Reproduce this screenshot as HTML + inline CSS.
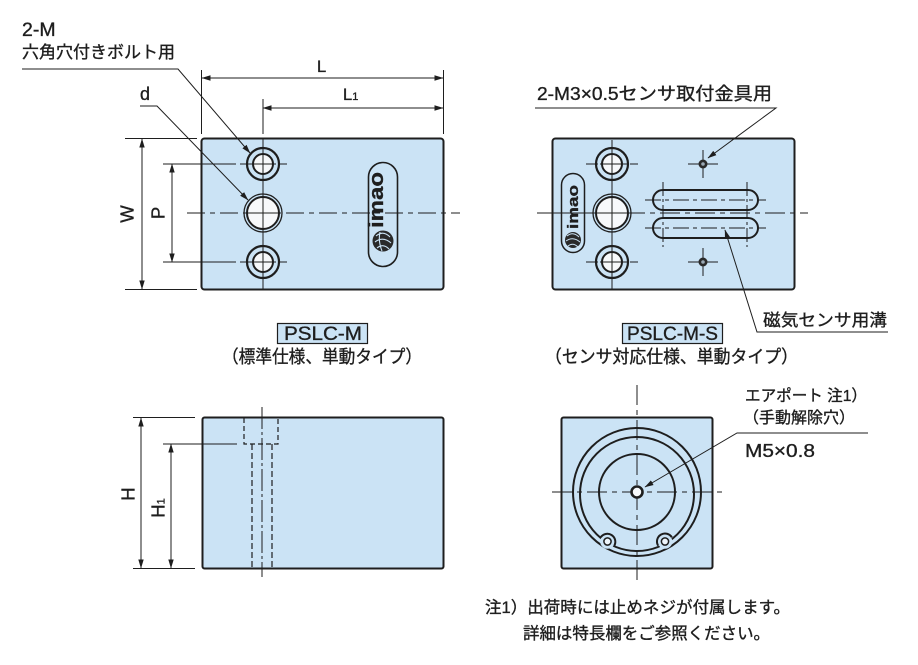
<!DOCTYPE html>
<html><head><meta charset="utf-8"><style>
html,body{margin:0;padding:0;background:#fff;}
svg{display:block;}
text{font-family:"Liberation Sans","Noto Sans CJK JP",sans-serif;fill:#1e1e1e;stroke:#1e1e1e;stroke-width:0.35px;}
</style></head><body>
<svg width="918" height="665" viewBox="0 0 918 665" xmlns="http://www.w3.org/2000/svg">
<defs>
<marker id="ar" markerWidth="9" markerHeight="6" refX="8.5" refY="3" orient="auto-start-reverse" markerUnits="userSpaceOnUse">
<path d="M0,0.3 L9,3 L0,5.7 z" fill="#1e1e1e"/>
</marker>
</defs>
<g stroke="#1e1e1e" fill="none">

<!-- ===== TOP LEFT BLOCK ===== -->
<rect x="201.5" y="138.5" width="242" height="151" rx="3" fill="#cbe3f5" stroke-width="2"/>
<line x1="263" y1="99" x2="263" y2="134" stroke-width="1"/>
<line x1="263" y1="138" x2="263" y2="290" stroke-width="1" stroke-dasharray="24 3 3 3"/>
<line x1="187" y1="213" x2="460" y2="213" stroke-width="1" stroke-dasharray="18 5 5 5"/>
<line x1="163" y1="164" x2="236" y2="164" stroke-width="1"/>
<line x1="240" y1="164" x2="287" y2="164" stroke-width="1" stroke-dasharray="10 3 3 3"/>
<line x1="163" y1="262" x2="236" y2="262" stroke-width="1"/>
<line x1="240" y1="262" x2="287" y2="262" stroke-width="1" stroke-dasharray="10 3 3 3"/>
<circle cx="263" cy="164" r="16" stroke-width="2.2"/>
<circle cx="263" cy="164" r="10" fill="#f7f9fb" stroke-width="2"/>
<circle cx="263" cy="213" r="19" stroke-width="1.3"/>
<circle cx="263" cy="213" r="16" fill="#f7f9fb" stroke-width="2"/>
<circle cx="263" cy="262" r="16" stroke-width="2.2"/>
<circle cx="263" cy="262" r="10" fill="#f7f9fb" stroke-width="2"/>
<line x1="263" y1="150" x2="263" y2="276" stroke-width="1"/>
<line x1="245" y1="213" x2="281" y2="213" stroke-width="1"/>
<line x1="250" y1="164" x2="276" y2="164" stroke-width="1"/>
<line x1="250" y1="262" x2="276" y2="262" stroke-width="1"/>
<!-- logo -->
<rect x="368.5" y="162.5" width="29" height="104" rx="14.5" stroke-width="1.6"/>
<circle cx="383" cy="241" r="10.5" fill="#2a2a2a" stroke="none"/>
<path d="M376,236 Q383,230 390,237 M375,242 Q383,236 391,243 M377,248 Q383,243 389,249 M380,232 Q378,241 382,251" stroke="#cbe3f5" stroke-width="1.1"/>

<!-- dimensions left -->
<line x1="125" y1="138.5" x2="197" y2="138.5" stroke-width="1"/>
<line x1="125" y1="289.5" x2="197" y2="289.5" stroke-width="1"/>
<line x1="142" y1="139" x2="142" y2="289" stroke-width="1" marker-start="url(#ar)" marker-end="url(#ar)"/>
<line x1="172" y1="164" x2="172" y2="262" stroke-width="1" marker-start="url(#ar)" marker-end="url(#ar)"/>
<line x1="201.5" y1="70" x2="201.5" y2="134" stroke-width="1"/>
<line x1="443.5" y1="70" x2="443.5" y2="134" stroke-width="1"/>
<line x1="202" y1="78" x2="443" y2="78" stroke-width="1" marker-start="url(#ar)" marker-end="url(#ar)"/>
<line x1="263" y1="108" x2="443" y2="108" stroke-width="1" marker-start="url(#ar)" marker-end="url(#ar)"/>
<polyline points="22,69 178,69 250,153" stroke-width="1" marker-end="url(#ar)"/>
<polyline points="140,106 157,106 248,200" stroke-width="1" marker-end="url(#ar)"/>

<!-- ===== TOP RIGHT BLOCK ===== -->
<rect x="552.5" y="138.5" width="242" height="151" rx="3" fill="#cbe3f5" stroke-width="2"/>
<line x1="537" y1="213" x2="590" y2="213" stroke-width="1"/>
<line x1="590" y1="213" x2="808" y2="213" stroke-width="1" stroke-dasharray="20 5 5 5"/>
<line x1="612" y1="140" x2="612" y2="289" stroke-width="1"/>
<line x1="586" y1="164" x2="638" y2="164" stroke-width="1" stroke-dasharray="12 3 26 3"/>
<line x1="586" y1="262" x2="638" y2="262" stroke-width="1" stroke-dasharray="12 3 26 3"/>
<circle cx="612" cy="164" r="16" stroke-width="2.2"/>
<circle cx="612" cy="164" r="10" fill="#f7f9fb" stroke-width="2"/>
<circle cx="612" cy="213" r="19" stroke-width="1.3"/>
<circle cx="612" cy="213" r="16" fill="#f7f9fb" stroke-width="2"/>
<circle cx="612" cy="262" r="16" stroke-width="2.2"/>
<circle cx="612" cy="262" r="10" fill="#f7f9fb" stroke-width="2"/>
<line x1="612" y1="150" x2="612" y2="276" stroke-width="1"/>
<line x1="594" y1="213" x2="630" y2="213" stroke-width="1"/>
<line x1="600" y1="164" x2="625" y2="164" stroke-width="1"/>
<line x1="600" y1="262" x2="625" y2="262" stroke-width="1"/>
<rect x="561.5" y="173.5" width="23" height="79" rx="11.5" stroke-width="1.5"/>
<circle cx="573" cy="240" r="8" fill="#2a2a2a" stroke="none"/>
<path d="M567,236 Q573,231 579,237 M566,241 Q573,236 580,242 M568,246 Q573,242 578,247" stroke="#cbe3f5" stroke-width="1"/>
<line x1="688" y1="164" x2="718" y2="164" stroke-width="1"/>
<line x1="703" y1="150" x2="703" y2="178" stroke-width="1"/>
<circle cx="703" cy="164" r="4.5" fill="#2a2a2a" stroke="none"/>
<circle cx="703" cy="164" r="1.8" fill="#9aa8b4" stroke="none"/>
<line x1="688" y1="262" x2="718" y2="262" stroke-width="1"/>
<line x1="703" y1="248" x2="703" y2="276" stroke-width="1"/>
<circle cx="703" cy="262" r="4.5" fill="#2a2a2a" stroke="none"/>
<circle cx="703" cy="262" r="1.8" fill="#9aa8b4" stroke="none"/>
<rect x="653" y="190" width="105" height="20" rx="10" stroke-width="2"/>
<rect x="653" y="218" width="105" height="20" rx="10" stroke-width="2"/>
<line x1="645" y1="200" x2="766" y2="200" stroke-width="1" stroke-dasharray="16 4 4 4"/>
<line x1="645" y1="228" x2="766" y2="228" stroke-width="1" stroke-dasharray="16 4 4 4"/>
<line x1="663" y1="182" x2="663" y2="247" stroke-width="1" stroke-dasharray="14 3 3 3"/>
<line x1="747" y1="182" x2="747" y2="247" stroke-width="1" stroke-dasharray="14 3 3 3"/>
<polyline points="535,108 776,108 708,158" stroke-width="1" marker-end="url(#ar)"/>
<polyline points="888,332 757,332 725,230" stroke-width="1" marker-end="url(#ar)"/>

<rect x="277.5" y="323.5" width="90" height="20" fill="#cbe3f5" stroke-width="1.2"/>
<rect x="622.5" y="323.5" width="100" height="20" fill="#cbe3f5" stroke-width="1.2"/>

<!-- ===== BOTTOM LEFT BLOCK ===== -->
<rect x="202.5" y="417.5" width="241" height="151" rx="2" fill="#cbe3f5" stroke-width="2"/>
<path d="M244,418 V444 H278 V418" stroke-width="1.2" stroke-dasharray="5 3"/>
<line x1="252" y1="444" x2="252" y2="568" stroke-width="1.2" stroke-dasharray="6 3"/>
<line x1="272" y1="444" x2="272" y2="568" stroke-width="1.2" stroke-dasharray="6 3"/>
<line x1="262" y1="407" x2="262" y2="577" stroke-width="1" stroke-dasharray="22 3 3 3"/>
<line x1="133" y1="417.5" x2="195" y2="417.5" stroke-width="1"/>
<line x1="133" y1="568.5" x2="195" y2="568.5" stroke-width="1"/>
<line x1="163" y1="444" x2="237" y2="444" stroke-width="1"/>
<line x1="141" y1="418" x2="141" y2="568" stroke-width="1" marker-start="url(#ar)" marker-end="url(#ar)"/>
<line x1="171" y1="444" x2="171" y2="568" stroke-width="1" marker-start="url(#ar)" marker-end="url(#ar)"/>

<!-- ===== BOTTOM RIGHT BLOCK ===== -->
<rect x="561.5" y="417.5" width="151" height="151" rx="2" fill="#cbe3f5" stroke-width="2"/>
<circle cx="637" cy="492" r="64" stroke-width="2"/>
<circle cx="637" cy="494" r="57" stroke-width="2"/>
<circle cx="607.5" cy="541.5" r="7.3" fill="#cbe3f5" stroke="none"/>
<circle cx="665" cy="541.5" r="7.3" fill="#cbe3f5" stroke="none"/>
<path d="M600.7,537.3 A8,8 0 0 1 614.3,545.7" stroke-width="2"/>
<path d="M658.1,545.6 A8,8 0 0 1 671.9,537.4" stroke-width="2"/>
<circle cx="607.5" cy="541.5" r="3.6" fill="#eef5fb" stroke-width="1.5"/>
<circle cx="665" cy="541.5" r="3.6" fill="#eef5fb" stroke-width="1.5"/>
<circle cx="637" cy="492" r="38" stroke-width="2"/>
<line x1="552" y1="492" x2="722" y2="492" stroke-width="1" stroke-dasharray="20 5 5 5"/>
<line x1="637" y1="385" x2="637" y2="583" stroke-width="1" stroke-dasharray="20 5 5 5"/>
<circle cx="637" cy="492" r="5.5" fill="#f7f9fb" stroke-width="2.6"/>
<polyline points="868,433 737,433 645,487" stroke-width="1" marker-end="url(#ar)"/>
</g>

<!-- ===== TEXT ===== -->
<text x="22" y="36" font-size="19.5">2-M</text>
<text x="22" y="58" font-size="17" textLength="153" lengthAdjust="spacingAndGlyphs">六角穴付きボルト用</text>
<text x="140" y="100" font-size="18">d</text>
<text x="317" y="72" font-size="16.5">L</text>
<text x="343" y="100" font-size="16.5">L<tspan font-size="11">1</tspan></text>
<text x="127" y="220.5" font-size="18.5" text-anchor="middle" transform="rotate(-90 127 214)">W</text>
<text x="158" y="219.5" font-size="18.5" text-anchor="middle" transform="rotate(-90 158 213)">P</text>
<text x="128" y="500.5" font-size="18.5" text-anchor="middle" transform="rotate(-90 128 494)">H</text>
<text x="158" y="514.5" font-size="18.5" text-anchor="middle" transform="rotate(-90 158 508)">H<tspan font-size="11">1</tspan></text>

<text x="383" y="389" font-size="20" font-weight="bold" text-anchor="middle" transform="rotate(-90 383 200) translate(0 -189)" textLength="56" lengthAdjust="spacingAndGlyphs">imao</text>
<text x="573" y="589" font-size="15" font-weight="bold" text-anchor="middle" transform="rotate(-90 573 207) translate(0 -377)" textLength="44" lengthAdjust="spacingAndGlyphs">imao</text>

<text x="537" y="100" font-size="18" textLength="235" lengthAdjust="spacingAndGlyphs">2-M3×0.5センサ取付金具用</text>
<text x="763" y="326" font-size="17" textLength="124" lengthAdjust="spacingAndGlyphs">磁気センサ用溝</text>

<text x="284" y="340" font-size="19" textLength="78" lengthAdjust="spacingAndGlyphs">PSLC-M</text>
<text x="222" y="363" font-size="18" textLength="200" lengthAdjust="spacingAndGlyphs">（標準仕様、単動タイプ）</text>
<text x="627" y="340" font-size="19" textLength="91" lengthAdjust="spacingAndGlyphs">PSLC-M-S</text>
<text x="545" y="363" font-size="18" textLength="253" lengthAdjust="spacingAndGlyphs">（センサ対応仕様、単動タイプ）</text>

<text x="745" y="401" font-size="16" textLength="122" lengthAdjust="spacingAndGlyphs">エアポート 注1）</text>
<text x="743" y="423" font-size="16" textLength="112" lengthAdjust="spacingAndGlyphs">（手動解除穴）</text>
<text x="745" y="457" font-size="18.5" textLength="70" lengthAdjust="spacingAndGlyphs">M5×0.8</text>

<text x="485" y="613" font-size="16.5" textLength="305" lengthAdjust="spacingAndGlyphs">注1）出荷時には止めネジが付属します。</text>
<text x="523" y="639" font-size="16.5" textLength="247" lengthAdjust="spacingAndGlyphs">詳細は特長欄をご参照ください。</text>
</svg>
</body></html>
